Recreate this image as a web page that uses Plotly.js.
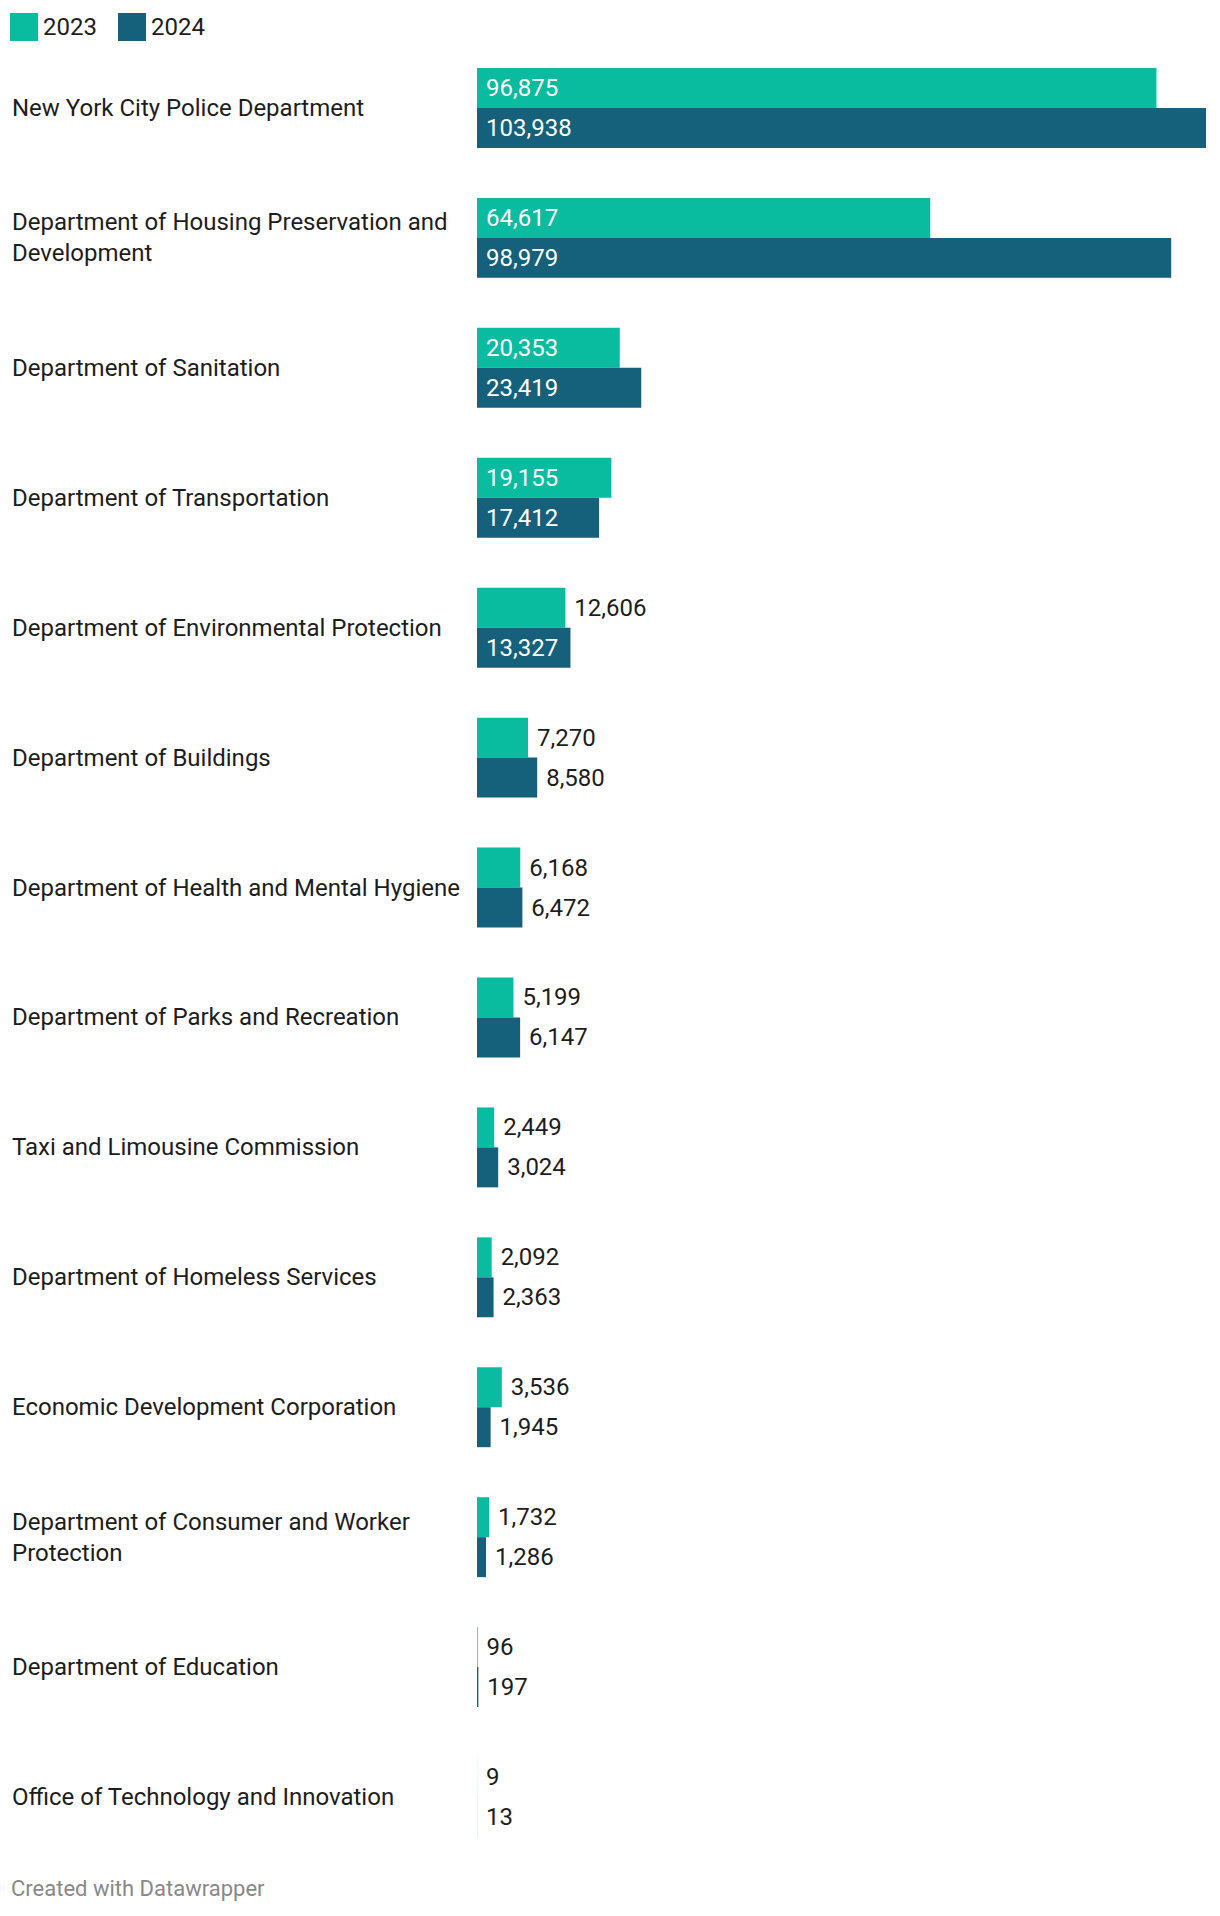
<!DOCTYPE html>
<html>
<head>
<meta charset="utf-8">
<script src="https://cdn.plot.ly/plotly-3.0.1.min.js"></script>
<style>
html,body{margin:0;padding:0;background:#fff;}
#chart{width:1220px;height:1916px;}
</style>
</head>
<body>
<div id="chart"></div>
<script>
const categories = [
  "New York City Police Department",
  "Department of Housing Preservation and Development",
  "Department of Sanitation",
  "Department of Transportation",
  "Department of Environmental Protection",
  "Department of Buildings",
  "Department of Health and Mental Hygiene",
  "Department of Parks and Recreation",
  "Taxi and Limousine Commission",
  "Department of Homeless Services",
  "Economic Development Corporation",
  "Department of Consumer and Worker Protection",
  "Department of Education",
  "Office of Technology and Innovation"
];
const values2023 = [96875, 64617, 20353, 19155, 12606, 7270, 6168, 5199, 2449, 2092, 3536, 1732, 96, 9];
const values2024 = [103938, 98979, 23419, 17412, 13327, 8580, 6472, 6147, 3024, 2363, 1945, 1286, 197, 13];
const seriesNames = ["2023", "2024"];
const seriesColors = ["#09bb9f", "#15607a"];

const FONT = "Roboto, 'Noto Sans', sans-serif";
const FS = 24;
const W = 1220, H = 1916;
const M = {l: 477, r: 14, t: 43, b: 54};
const pw = W - M.l - M.r, ph = H - M.t - M.b;
const px2x = p => (p - M.l) / pw;
const py2y = p => (H - M.b - p) / ph;

function wrap(s, max) {
  const words = s.split(" ");
  const lines = [];
  let cur = "";
  words.forEach(w => {
    if (cur && (cur + " " + w).length > max) { lines.push(cur); cur = w; }
    else cur = cur ? cur + " " + w : w;
  });
  if (cur) lines.push(cur);
  return lines.join("<br>");
}
const fmt = v => v.toLocaleString("en-US");
const INSIDE_MIN = 13000;

function makeTrace(vals, i) {
  return {
    type: "bar",
    orientation: "h",
    name: seriesNames[i],
    y: categories,
    x: vals,
    marker: {color: seriesColors[i]},
    text: vals.map(v => "\u00a0" + fmt(v)),
    texttemplate: "%{text}",
    textposition: vals.map(v => v >= INSIDE_MIN ? "inside" : "outside"),
    insidetextanchor: "start",
    insidetextfont: {family: FONT, size: FS, color: "#ffffff"},
    outsidetextfont: {family: FONT, size: FS, color: "#1d1d1d"},
    constraintext: "none",
    cliponaxis: false,
    hoverinfo: "skip",
    showlegend: false
  };
}

const data = [makeTrace(values2023, 0), makeTrace(values2024, 1)];

const annotations = categories.map(c => ({
  xref: "paper", yref: "y",
  x: px2x(10), y: c,
  xanchor: "left", yanchor: "middle", align: "left",
  text: wrap(c, 40),
  showarrow: false,
  font: {family: FONT, size: FS, color: "#1d1d1d"}
}));

// legend
const shapes = [];
const legendX = [10, 118];
seriesNames.forEach((n, i) => {
  shapes.push({
    type: "rect", xref: "paper", yref: "paper",
    x0: px2x(legendX[i]), x1: px2x(legendX[i] + 28),
    y0: py2y(41), y1: py2y(13),
    fillcolor: seriesColors[i], line: {width: 0}
  });
  annotations.push({
    xref: "paper", yref: "paper",
    x: px2x(legendX[i] + 31), y: py2y(27),
    xanchor: "left", yanchor: "middle",
    text: n, showarrow: false,
    font: {family: FONT, size: FS, color: "#1d1d1d"}
  });
});
annotations.push({
  xref: "paper", yref: "paper",
  x: px2x(9), y: py2y(1889),
  xanchor: "left", yanchor: "middle",
  text: "Created with Datawrapper", showarrow: false,
  font: {family: FONT, size: 22, color: "#888888"}
});

const layout = {
  width: W, height: H,
  margin: M,
  paper_bgcolor: "#ffffff",
  plot_bgcolor: "#ffffff",
  barmode: "group",
  bargap: 0.385,
  bargroupgap: 0,
  showlegend: false,
  xaxis: {range: [0, Math.max(...values2024, ...values2023)], visible: false, fixedrange: true},
  yaxis: {autorange: "reversed", type: "category", showticklabels: false, showgrid: false, zeroline: false, showline: false, ticks: "", fixedrange: true},
  annotations: annotations,
  shapes: shapes,
  font: {family: FONT, size: FS, color: "#1d1d1d"}
};

Plotly.newPlot("chart", data, layout, {staticPlot: true, displayModeBar: false});
</script>
</body>
</html>
